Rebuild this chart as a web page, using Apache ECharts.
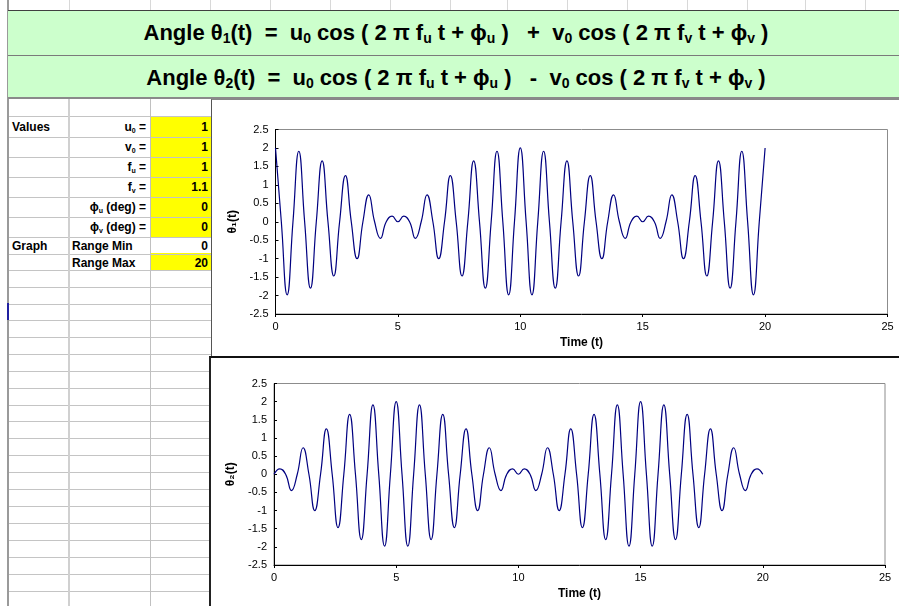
<!DOCTYPE html>
<html>
<head>
<meta charset="utf-8">
<script src="https://cdn.jsdelivr.net/npm/echarts@6/dist/echarts.min.js"></script>
<style>
  html,body{margin:0;padding:0;}
  body{width:899px;height:606px;overflow:hidden;background:#fff;position:relative;font-family:"Liberation Sans",Arial,sans-serif;}
  .abs{position:absolute;}
  .band{position:absolute;left:8px;width:900px;background:#ccffcc;}
  .htxt{position:absolute;left:8px;width:896px;text-align:center;font-weight:bold;font-size:22px;white-space:pre;color:#000;}
  .htxt sub{font-size:14px;vertical-align:-3px;line-height:0;}
  .cell{position:absolute;font-weight:bold;font-size:12px;color:#000;white-space:nowrap;line-height:14px;}
  .cell sub{font-size:7px;vertical-align:-2px;line-height:0;}
  .chartbox{position:absolute;background:#fff;overflow:hidden;}
</style>
</head>
<body>
<div id="grid"></div>
<div class="band" style="top:10px;height:44px;border-top:1px solid #404040;border-bottom:1px solid #7a7a7a;"></div>
<div class="band" style="top:56px;height:41px;border-bottom:2px solid #8a8a8a;"></div>
<div class="htxt" style="top:20px;line-height:26px;">Angle θ<sub>1</sub>(t)  =  u<sub>0</sub> cos ( 2 π f<sub>u</sub> t + ϕ<sub>u</sub> )   +  v<sub>0</sub> cos ( 2 π f<sub>v</sub> t + ϕ<sub>v</sub> )</div>
<div class="htxt" style="top:65px;line-height:26px;">Angle θ<sub>2</sub>(t)  =  u<sub>0</sub> cos ( 2 π f<sub>u</sub> t + ϕ<sub>u</sub> )   -  v<sub>0</sub> cos ( 2 π f<sub>v</sub> t + ϕ<sub>v</sub> )</div>
<div id="cells"></div>
<div class="chartbox" style="left:211px;top:99px;width:700px;height:256px;border-left:1px solid #555;border-top:1px solid #888;border-bottom:2px solid #111;">
  <div id="c1" style="width:700px;height:256px;"></div>
</div>
<div class="chartbox" style="left:209px;top:356px;width:700px;height:260px;border-left:2px solid #222;border-top:2px solid #111;">
  <div id="c2" style="width:700px;height:260px;"></div>
</div>
<script>
// ---------------- data ----------------
const timeValues = [0, 0.238, 0.476, 0.714, 0.952, 1.190, 1.429, 1.667, 1.905, 2.143, 2.381, 2.619, 2.857, 3.095, 3.333, 3.571, 3.810, 4.048, 4.286, 4.524, 4.762, 5.000, 5.238, 5.476, 5.714, 5.952, 6.190, 6.429, 6.667, 6.905, 7.143, 7.381, 7.619, 7.857, 8.095, 8.333, 8.571, 8.810, 9.048, 9.286, 9.524, 9.762, 10.000, 10.238, 10.476, 10.714, 10.952, 11.190, 11.429, 11.667, 11.905, 12.143, 12.381, 12.619, 12.857, 13.095, 13.333, 13.571, 13.810, 14.048, 14.286, 14.524, 14.762, 15.000, 15.238, 15.476, 15.714, 15.952, 16.190, 16.429, 16.667, 16.905, 17.143, 17.381, 17.619, 17.857, 18.095, 18.333, 18.571, 18.810, 19.048, 19.286, 19.524, 19.762, 20.000];
const theta1Values = [2, 0, -1.98, 0, 1.91, 0, -1.80, 0, 1.65, 0, -1.47, 0, 1.25, 0, -1.00, 0, 0.73, 0, -0.45, 0, 0.15, 0, 0.15, 0, -0.45, 0, 0.73, 0, -1.00, 0, 1.25, 0, -1.47, 0, 1.65, 0, -1.80, 0, 1.91, 0, -1.98, 0, 2.00, 0, -1.98, 0, 1.91, 0, -1.80, 0, 1.65, 0, -1.47, 0, 1.25, 0, -1.00, 0, 0.73, 0, -0.45, 0, 0.15, 0, 0.15, 0, -0.45, 0, 0.73, 0, -1.00, 0, 1.25, 0, -1.47, 0, 1.65, 0, -1.80, 0, 1.91, 0, -1.98, 0, 2.00];
const theta2Values = [0, 0.15, 0, -0.45, 0, 0.73, 0, -1.00, 0, 1.25, 0, -1.47, 0, 1.65, 0, -1.80, 0, 1.91, 0, -1.98, 0, 2.00, 0, -1.98, 0, 1.91, 0, -1.80, 0, 1.65, 0, -1.47, 0, 1.25, 0, -1.00, 0, 0.73, 0, -0.45, 0, 0.15, 0, 0.15, 0, -0.45, 0, 0.73, 0, -1.00, 0, 1.25, 0, -1.47, 0, 1.65, 0, -1.80, 0, 1.91, 0, -1.98, 0, 2.00, 0, -1.98, 0, 1.91, 0, -1.80, 0, 1.65, 0, -1.47, 0, 1.25, 0, -1.00, 0, 0.73, 0, -0.45, 0, 0.15, 0];
const xAxisTicks = {min: 0, max: 25, interval: 5};
const yAxisTicks = {min: -2.5, max: 2.5, interval: 0.5};
const paramLabels = ['u<sub>0</sub> =', 'v<sub>0</sub> =', 'f<sub>u</sub> =', 'f<sub>v</sub> =', 'ϕ<sub>u</sub> (deg) =', 'ϕ<sub>v</sub> (deg) ='];
const paramValues = ['1', '1', '1', '1.1', '0', '0'];
const rangeLabels = ['Range Min', 'Range Max'];
const rangeValues = ['0', '20'];

// ---------------- spreadsheet layout ----------------
(function(){
  const g = document.getElementById('grid');
  let html = '';
  const rowLines = [116,136.5,156.5,176.5,196.5,216.5,236.5,253.5,270,286.5,303.5,320,337,354,371,387.5,404.5,421,438,455,472,489,506,523,540,557,574,591];
  html += '<div class="abs" style="left:150px;top:116px;width:61px;height:121px;background:#ffff00"></div>';
  html += '<div class="abs" style="left:150px;top:253px;width:61px;height:17px;background:#ffff00"></div>';
  rowLines.forEach(y => { html += '<div class="abs" style="left:8px;top:'+y+'px;width:203px;height:1px;background:#c4c4c4"></div>'; });
  html += '<div class="abs" style="left:68px;top:99px;width:2px;height:507px;background:#d0d0d0"></div>';
  html += '<div class="abs" style="left:150px;top:99px;width:1px;height:507px;background:#c0c0c0"></div>';
  html += '<div class="abs" style="left:7px;top:0px;width:2px;height:606px;background:#9a9a9a"></div>';
  html += '<div class="abs" style="left:7px;top:303px;width:2px;height:17px;background:#2020a0"></div>';
  [69,150,210,270,330,390,450,507,567,627,687,747,805,865].forEach(x => { html += '<div class="abs" style="left:'+x+'px;top:0px;width:1px;height:10px;background:#d8d8d8"></div>'; });
  g.innerHTML = html;

  const c = document.getElementById('cells');
  let t = '';
  const rowCenters = [127, 147, 167, 187, 207, 227];
  t += '<div class="cell" style="left:12px;top:'+(127-7)+'px">Values</div>';
  paramLabels.forEach((lab, i) => {
    t += '<div class="cell" style="right:'+(899-146)+'px;top:'+(rowCenters[i]-7)+'px">'+lab+'</div>';
    t += '<div class="cell" style="right:'+(899-208)+'px;top:'+(rowCenters[i]-7)+'px">'+paramValues[i]+'</div>';
  });
  const rc = [245.5, 262.5];
  t += '<div class="cell" style="left:12px;top:'+(rc[0]-7)+'px">Graph</div>';
  rangeLabels.forEach((lab, i) => {
    t += '<div class="cell" style="left:72px;top:'+(rc[i]-7)+'px">'+lab+'</div>';
    t += '<div class="cell" style="right:'+(899-208)+'px;top:'+(rc[i]-7)+'px">'+rangeValues[i]+'</div>';
  });
  c.innerHTML = t;
})();

// ---------------- charts ----------------
function makeOption(yName, values, grid){
  const pts = timeValues.map((t, i) => [t, values[i]]);
  const font = '"Liberation Sans", Arial, sans-serif';
  return {
    animation: false,
    grid: Object.assign({show: true, borderColor: '#8c8c8c', borderWidth: 1, backgroundColor: '#fff'}, grid),
    xAxis: {
      type: 'value', min: xAxisTicks.min, max: xAxisTicks.max, interval: xAxisTicks.interval,
      name: 'Time (t)', nameLocation: 'middle', nameGap: 21,
      nameTextStyle: {fontFamily: font, fontWeight: 'bold', fontSize: 12, color: '#000'},
      axisLine: {show: true, onZero: false, lineStyle: {color: '#000', width: 1}},
      axisTick: {show: true, inside: false, length: 3, lineStyle: {color: '#000'}},
      axisLabel: {fontFamily: font, fontSize: 11, color: '#000', margin: 7},
      splitLine: {show: false}
    },
    yAxis: {
      type: 'value', min: yAxisTicks.min, max: yAxisTicks.max, interval: yAxisTicks.interval,
      name: yName, nameLocation: 'middle', nameGap: 34, nameRotate: 90,
      nameTextStyle: {fontFamily: font, fontWeight: 'bold', fontSize: 12, color: '#000'},
      axisLine: {show: true, onZero: false, lineStyle: {color: '#000', width: 1}},
      axisTick: {show: true, inside: true, length: 3, lineStyle: {color: '#000'}},
      axisLabel: {fontFamily: font, fontSize: 11, color: '#000', margin: 7},
      splitLine: {show: false}
    },
    series: [{
      type: 'line', data: pts, smooth: 0.5, showSymbol: false, symbol: 'none',
      lineStyle: {color: '#000080', width: 1.2}, clip: false
    }]
  };
}
const ch1 = echarts.init(document.getElementById('c1'), null, {renderer: 'canvas'});
ch1.setOption(makeOption('θ₁(t)', theta1Values, {left: 63.5, top: 29.5, width: 612, height: 184.5}));
const ch2 = echarts.init(document.getElementById('c2'), null, {renderer: 'canvas'});
ch2.setOption(makeOption('θ₂(t)', theta2Values, {left: 63, top: 25.5, width: 611, height: 181.5}));
</script>
</body>
</html>
